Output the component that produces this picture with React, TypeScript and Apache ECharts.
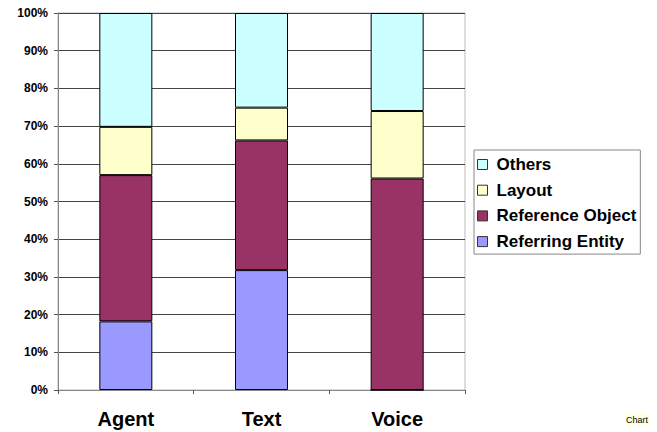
import React, { useEffect, useRef } from "react";
import * as echarts from "echarts";

const categories = ["Agent", "Text", "Voice"];
const referringEntity = [18.2, 31.8, 0];
const referenceObject = [38.8, 34.4, 56.1];
const layout = [12.8, 8.7, 17.9];
const others = [30.2, 25.1, 26.0];
const yTicks = [0, 10, 20, 30, 40, 50, 60, 70, 80, 90, 100];

export default function App() {
  const ref = useRef<HTMLDivElement>(null);
  useEffect(() => {
    const chart = echarts.init(ref.current!, null, { renderer: "svg" });
    const mk = (name: string, data: number[], color: string) => ({
      name,
      type: "bar",
      stack: "s",
      data,
      barWidth: 53,
      itemStyle: { color, borderColor: "#000", borderWidth: 1 },
    });
    chart.setOption({
      animation: false,
      backgroundColor: "#fff",
      textStyle: { fontFamily: "Liberation Sans, Arial, sans-serif" },
      grid: { left: 58, right: 192, top: 13, bottom: 42, show: true, borderColor: "#bbb", borderWidth: 1 },
      xAxis: {
        type: "category",
        data: categories,
        axisLine: { lineStyle: { color: "#888" } },
        axisTick: { show: true, length: 4, lineStyle: { color: "#555" } },
        axisLabel: { fontSize: 20, fontWeight: "bold", color: "#000", margin: 19 },
      },
      yAxis: {
        type: "value",
        min: 0,
        max: 100,
        interval: 10,
        axisLine: { show: true, lineStyle: { color: "#888" } },
        axisTick: { show: true, length: 4, lineStyle: { color: "#555" } },
        splitLine: { show: true, lineStyle: { color: "#444", width: 1 } },
        axisLabel: {
          fontSize: 12,
          fontWeight: "bold",
          color: "#000",
          margin: 10,
          formatter: (v: number) => (yTicks.includes(v) ? v + "%" : ""),
        },
      },
      legend: {
        orient: "vertical",
        left: 474,
        top: 150,
        data: ["Others", "Layout", "Reference Object", "Referring Entity"],
        itemWidth: 10,
        itemHeight: 10,
        itemGap: 8.7,
        padding: [6, 4, 4, 3],
        borderColor: "#888",
        borderWidth: 1,
        textStyle: {
          fontSize: 17,
          fontWeight: "bold",
          color: "#000",
          padding: [0, 0, 0, 4],
          fontFamily: "Liberation Sans, Arial, sans-serif",
        },
        icon: "rect",
        itemStyle: { borderColor: "#333", borderWidth: 1 },
      },
      graphic: [
        {
          type: "text",
          left: 625,
          top: 414,
          style: {
            text: "Chart",
            fontSize: 9,
            fill: "#000",
            backgroundColor: "#ffffe1",
            padding: [1, 1],
            fontFamily: "Liberation Sans, Arial, sans-serif",
          },
        },
      ],
      series: [
        mk("Referring Entity", referringEntity, "#9999ff"),
        mk("Reference Object", referenceObject, "#993366"),
        mk("Layout", layout, "#ffffcc"),
        mk("Others", others, "#ccffff"),
      ],
    });
    return () => chart.dispose();
  }, []);
  return <div ref={ref} style={{ width: 657, height: 432, position: "absolute", left: 0, top: 0 }} />;
}
